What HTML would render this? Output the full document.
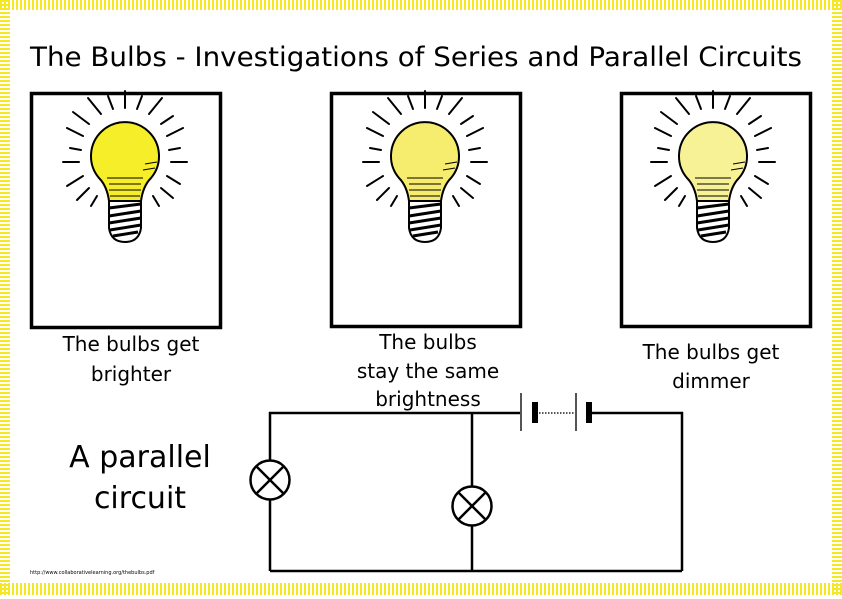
<!DOCTYPE html>
<html><head><meta charset="utf-8"><style>
body{margin:0;width:842px;height:595px;overflow:hidden;background:#fff;font-family:"DejaVu Sans","Liberation Sans",sans-serif;}
</style></head><body>
<svg width="842" height="595" viewBox="0 0 842 595" xmlns="http://www.w3.org/2000/svg">
<defs>
<pattern id="vs" width="4" height="4" patternUnits="userSpaceOnUse"><rect x="0" y="0" width="2" height="4" fill="#f6e820"/></pattern>
<pattern id="hs" width="4" height="4" patternUnits="userSpaceOnUse"><rect x="0" y="0" width="4" height="2" fill="#f6e820"/></pattern>
<g id="rays" stroke="#000" stroke-width="2" stroke-linecap="round">
<line x1="0" y1="-48" x2="0" y2="-65"/>
<line x1="12" y1="-47" x2="17" y2="-60"/>
<line x1="-12" y1="-47" x2="-17" y2="-60"/>
<line x1="24" y1="-42" x2="37" y2="-58"/>
<line x1="-24" y1="-42" x2="-37" y2="-58"/>
<line x1="36" y1="-32" x2="48" y2="-40"/>
<line x1="-36" y1="-32" x2="-52" y2="-44"/>
<line x1="42" y1="-20" x2="58" y2="-28"/>
<line x1="-42" y1="-20" x2="-58" y2="-28"/>
<line x1="44" y1="-6" x2="55" y2="-8"/>
<line x1="-44" y1="-6" x2="-55" y2="-8"/>
<line x1="46" y1="6" x2="62" y2="6"/>
<line x1="-46" y1="6" x2="-62" y2="6"/>
<line x1="42" y1="20" x2="55" y2="28"/>
<line x1="-42" y1="20" x2="-58" y2="30"/>
<line x1="36" y1="32" x2="48" y2="42"/>
<line x1="-36" y1="32" x2="-48" y2="44"/>
<line x1="28" y1="40" x2="34" y2="50"/>
<line x1="-28" y1="40" x2="-34" y2="50"/>
</g>
<g id="base">
<path d="M-16 45 L16 45 L16 72 Q14 86 0 86 Q-14 86 -16 72 Z" fill="#fff" stroke="#000" stroke-width="2"/>
<g stroke="#000" stroke-width="3">
<line x1="-16" y1="52" x2="16" y2="48"/><line x1="-16" y1="60" x2="16" y2="55"/><line x1="-16" y1="67" x2="16" y2="62"/><line x1="-15" y1="74" x2="16" y2="69"/><line x1="-12" y1="80" x2="13" y2="76"/>
</g>
<g stroke="#000" stroke-width="1">
<line x1="-18" y1="22" x2="18" y2="22"/><line x1="-16" y1="28" x2="16" y2="28"/><line x1="-16" y1="34" x2="16" y2="34"/><line x1="-15" y1="40" x2="15" y2="40"/>
<line x1="20" y1="8" x2="32" y2="6"/><line x1="18" y1="14" x2="30" y2="12"/>
</g>
</g>
</defs>
<rect x="0" y="0" width="842" height="10" fill="url(#vs)"/>
<rect x="0" y="583" width="842" height="12" fill="url(#vs)"/>
<rect x="0" y="0" width="10" height="595" fill="url(#hs)"/>
<rect x="832" y="0" width="10" height="595" fill="url(#hs)"/>
<rect x="10" y="10" width="822" height="573" fill="#fff"/>

<text x="30" y="66" font-size="27" fill="#000" textLength="772" lengthAdjust="spacingAndGlyphs">The Bulbs - Investigations of Series and Parallel Circuits</text>

<rect x="31.5" y="93.5" width="189" height="234" fill="none" stroke="#000" stroke-width="3.5"/>
<rect x="331.5" y="93.5" width="189" height="233" fill="none" stroke="#000" stroke-width="3.5"/>
<rect x="621.5" y="93.5" width="189" height="233" fill="none" stroke="#000" stroke-width="3.5"/>

<g transform="translate(125,156)">
<use href="#rays"/>
<path d="M-16 45 Q-18 30 -26 22 A34 34 0 1 1 26 22 Q18 30 16 45 Z" fill="#f7ee2a" stroke="#000" stroke-width="2"/>
<use href="#base"/>
</g>
<g transform="translate(425,156)">
<use href="#rays"/>
<path d="M-16 45 Q-18 30 -26 22 A34 34 0 1 1 26 22 Q18 30 16 45 Z" fill="#f6ec6e" stroke="#000" stroke-width="2"/>
<use href="#base"/>
</g>
<g transform="translate(713,156)">
<use href="#rays"/>
<path d="M-16 45 Q-18 30 -26 22 A34 34 0 1 1 26 22 Q18 30 16 45 Z" fill="#f8f296" stroke="#000" stroke-width="2"/>
<use href="#base"/>
</g>

<g font-size="20" fill="#000" text-anchor="middle">
<text x="131" y="351">The bulbs get</text>
<text x="131" y="381">brighter</text>
<text x="428" y="349">The bulbs</text>
<text x="428" y="378">stay the same</text>
<text x="428" y="406">brightness</text>
<text x="711" y="359">The bulbs get</text>
<text x="711" y="388">dimmer</text>
</g>
<g font-size="30" fill="#000" text-anchor="middle">
<text x="140" y="467">A parallel</text>
<text x="140" y="508">circuit</text>
</g>
<text x="30" y="574" font-size="5" fill="#000">http://www.collaborativelearning.org/thebulbs.pdf</text>

<g stroke="#000" stroke-width="2.5" fill="none">
<polyline points="521,413 270,413 270,460"/>
<line x1="270" y1="500" x2="270" y2="571"/>
<line x1="270" y1="571" x2="682" y2="571"/>
<polyline points="591,413 682,413 682,571"/>
<line x1="472" y1="413" x2="472" y2="486"/>
<line x1="472" y1="526" x2="472" y2="571"/>
<circle cx="270" cy="480" r="19.5"/>
<line x1="256" y1="466" x2="284" y2="494"/><line x1="284" y1="466" x2="256" y2="494"/>
<circle cx="472" cy="506" r="19.5"/>
<line x1="458" y1="492" x2="486" y2="520"/><line x1="486" y1="492" x2="458" y2="520"/>
</g>
<line x1="521" y1="393" x2="521" y2="431" stroke="#555" stroke-width="2"/>
<rect x="532" y="402" width="6" height="21" fill="#000"/>
<line x1="539" y1="413" x2="575" y2="413" stroke="#555" stroke-width="2" stroke-dasharray="1.5,1.5"/>
<line x1="576" y1="393" x2="576" y2="431" stroke="#555" stroke-width="2"/>
<rect x="586" y="402" width="6" height="21" fill="#000"/>
</svg>
</body></html>
